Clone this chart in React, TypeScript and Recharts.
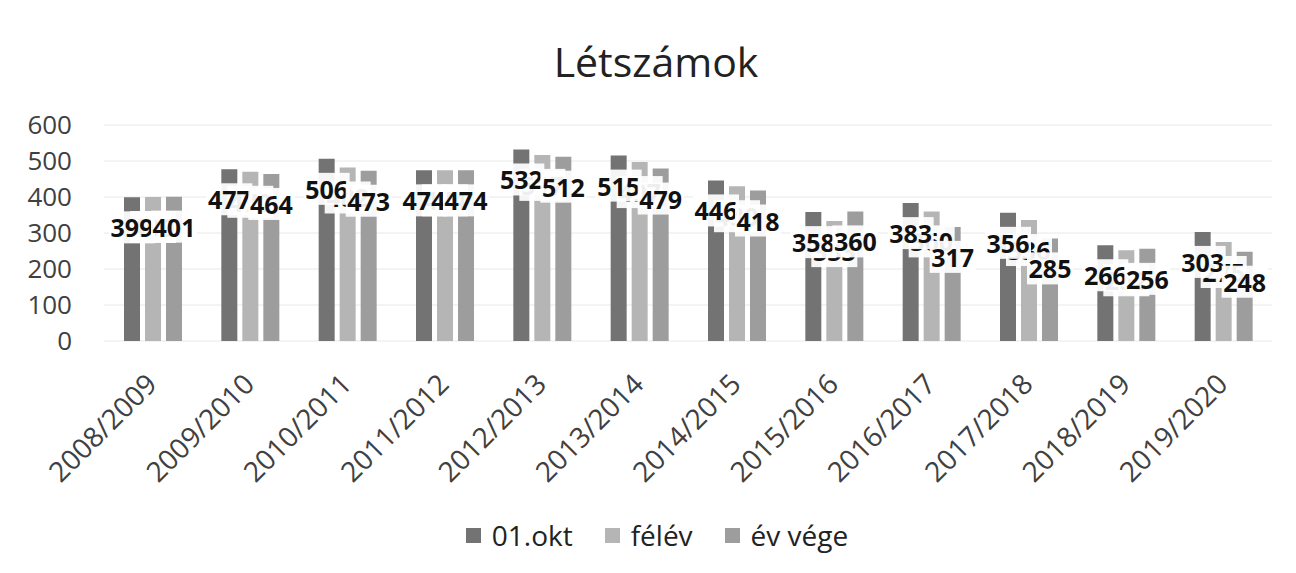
import { BarChart, Bar, XAxis, YAxis, CartesianGrid, Legend, LabelList } from 'recharts';

const CATEGORIES = [
  '2008/2009', '2009/2010', '2010/2011', '2011/2012', '2012/2013', '2013/2014',
  '2014/2015', '2015/2016', '2016/2017', '2017/2018', '2018/2019', '2019/2020',
];
const OKT = [399, 477, 506, 474, 532, 515, 446, 358, 383, 356, 266, 303];
const FELEV = [400, 470, 482, 474, 517, 497, 430, 333, 360, 336, 252, 275];
const EV_VEGE = [401, 464, 473, 474, 512, 479, 418, 360, 317, 285, 256, 248];
const Y_TICKS = [0, 100, 200, 300, 400, 500, 600];

const SERIES = [
  { key: 'okt', name: '01.okt', color: '#737373', z: 2000 },
  { key: 'felev', name: 'félév', color: '#b5b5b5', z: 1990 },
  { key: 'evvege', name: 'év vége', color: '#9d9d9d', z: 2010 },
];

const data = CATEGORIES.map((c, i) => ({
  name: c,
  okt: OKT[i],
  felev: FELEV[i],
  evvege: EV_VEGE[i],
}));

const FONT = '"Open Sans", Calibri, sans-serif';

function XTick({ x, y, payload }: any) {
  return (
    <g transform={`translate(${x},${y})`}>
      <text
        x={6}
        y={45}
        textAnchor="end"
        transform="rotate(-45, 6, 45)"
        fontSize={28}
        fontFamily={FONT}
        fill="#404040"
      >
        {payload.value}
      </text>
    </g>
  );
}

function BoxLabel(props: any) {
  const { x, y, width, value } = props;
  const cx = x + width / 2;
  const cy = y + 30;
  return (
    <g>
      <rect x={cx - 23} y={cy - 16} width={46} height={32} fill="#ffffff" fillOpacity={0.93} />
      <text
        x={cx}
        y={cy}
        textAnchor="middle"
        dominantBaseline="central"
        fontSize={25}
        fontWeight={700}
        fontFamily={FONT}
        fill="#111"
      >
        {value}
      </text>
    </g>
  );
}

function LegendBox() {
  return (
    <div
      style={{
        height: 40,
        display: 'flex',
        justifyContent: 'center',
        alignItems: 'center',
        gap: 32,
        fontFamily: FONT,
        fontSize: 28,
        color: '#222',
        paddingLeft: 42,
      }}
    >
      {SERIES.map((s) => (
        <span key={s.key} style={{ display: 'flex', alignItems: 'center' }}>
          <span style={{ width: 15, height: 15, background: s.color, marginRight: 11, display: 'inline-block' }} />
          {s.name}
        </span>
      ))}
    </div>
  );
}

export default function App() {
  return (
    <div style={{ position: 'absolute', left: 0, top: 0, width: 1296, height: 573, background: '#fff' }}>
      <div
        style={{
          position: 'absolute',
          left: 0,
          width: 1312,
          top: 36,
          textAlign: 'center',
          fontFamily: FONT,
          fontSize: 41,
          color: '#222',
          lineHeight: '50px',
        }}
      >
        Létszámok
      </div>
      <BarChart
        width={1296}
        height={573}
        data={data}
        margin={{ top: 125, right: 24, left: 0, bottom: 18 }}
        barSize={16}
        barGap={5}
      >
        <CartesianGrid vertical={false} stroke="#e8e8e8" />
        <XAxis
          dataKey="name"
          axisLine={false}
          tickLine={false}
          tickSize={0}
          tickMargin={0}
          height={174}
          interval={0}
          tick={<XTick />}
        />
        <YAxis
          width={104}
          domain={[0, 600]}
          ticks={Y_TICKS}
          axisLine={false}
          tickLine={false}
          tickSize={0}
          tickMargin={32}
          tick={{ fontSize: 26, fontFamily: FONT, fill: '#404040' }}
        />
        <Legend verticalAlign="bottom" content={<LegendBox />} />
        {SERIES.map((s) => (
          <Bar key={s.key} dataKey={s.key} name={s.name} fill={s.color} isAnimationActive={false}>
            <LabelList dataKey={s.key} content={<BoxLabel />} zIndex={s.z} />
          </Bar>
        ))}
      </BarChart>
    </div>
  );
}
